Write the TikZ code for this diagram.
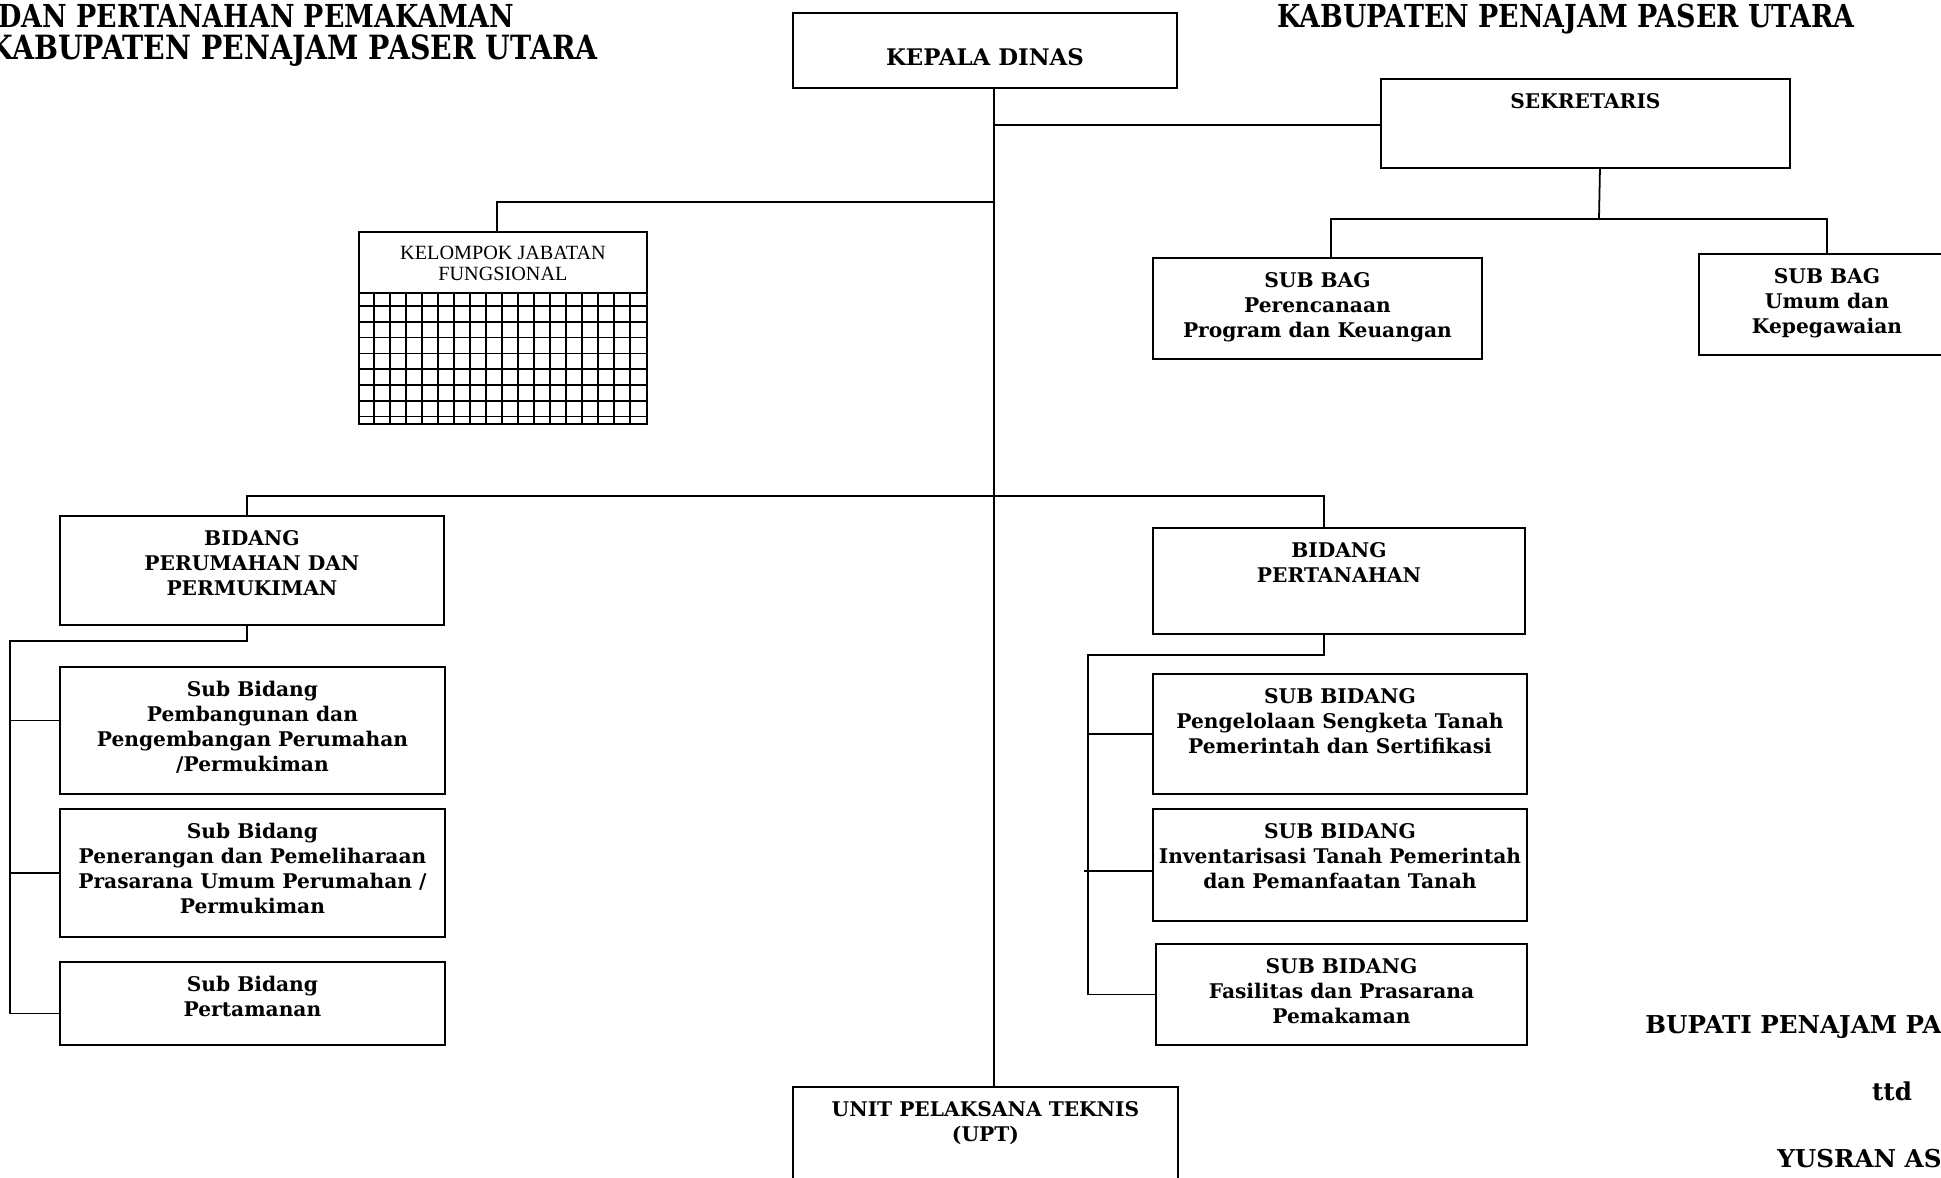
\documentclass[tikz,border=0pt]{standalone}
\usepackage{fontspec}
\setmainfont{DejaVu Serif}
\newfontfamily\titlefont[FakeStretch=0.85]{DejaVu Serif}
\newfontfamily\kjffont{Liberation Serif}
\usepackage{tikz}
\usetikzlibrary{positioning}
\newlength\unitpx
\setlength\unitpx{0.02cm}

\begin{document}
\begin{tikzpicture}[x=0.02cm,y=-0.02cm]
\tikzstyle{box}=[draw,line width=1.1pt,inner sep=0pt,anchor=north west];
\tikzstyle{txt}=[align=center,inner sep=0pt,font=\fontsize{11.5}{14.2}\selectfont\bfseries];
\tikzstyle{line}=[line width=1pt];
\tikzstyle{title}=[inner sep=0pt,font=\titlefont\fontsize{18}{21}\selectfont\bfseries];
\tikzstyle{sign}=[inner sep=0pt,font=\fontsize{14}{17}\selectfont\bfseries];
\path[use as bounding box,fill=white] (0,0) rectangle (1941,1177);

\node [title,anchor=base east] (head1) at (514,27) {DAN PERTANAHAN PEMAKAMAN};
\node [title,font=\titlefont\fontsize{19}{22}\selectfont\bfseries,anchor=base east] (head2) at (598,59) {KABUPATEN PENAJAM PASER UTARA};
\node [title,anchor=base west] (head3) at (1277,27) {KABUPATEN PENAJAM PASER UTARA};

\node [box,minimum width=384\unitpx,minimum height=75\unitpx] (kadis) at (792,12) {};
\node [txt,font=\fontsize{13}{16}\selectfont\bfseries,below=36\unitpx of kadis.north] (kadis-t) {KEPALA DINAS};

\node [box,minimum width=409\unitpx,minimum height=89\unitpx] (sek) at (1380,78) {};
\node [txt,below=15\unitpx of sek.north] (sek-t) {SEKRETARIS};
\node [box,minimum width=329\unitpx,minimum height=101\unitpx] (sbp) at (1152,257) {};
\node [txt,below=15\unitpx of sbp.north] (sbp-t) {SUB BAG\\Perencanaan\\Program dan Keuangan};
\node [box,minimum width=256\unitpx,minimum height=101\unitpx] (sbu) at (1698,253) {};
\node [txt,below=15\unitpx of sbu.north] (sbu-t) {SUB BAG\\Umum dan\\Kepegawaian};

\node [box,minimum width=288\unitpx,minimum height=192\unitpx] (kjf) at (358,231) {};
\node [txt,font=\kjffont\fontsize{11.5}{12}\selectfont,below=15\unitpx of kjf.north] (kjf-t) {KELOMPOK JABATAN\\FUNGSIONAL};
\draw [line] (358,293) -- (646,293);
\foreach \i in {1,...,17}
  \draw [line] (358+16*\i,293) -- (358+16*\i,423);
\foreach \j in {0,...,7}
  \draw [line] (358,306+15.8*\j) -- (646,306+15.8*\j);

\node [box,minimum width=384\unitpx,minimum height=109\unitpx] (bp) at (59,515) {};
\node [txt,below=15\unitpx of bp.north] (bp-t) {BIDANG\\PERUMAHAN DAN\\PERMUKIMAN};
\node [box,minimum width=385\unitpx,minimum height=127\unitpx] (sb1) at (59,666) {};
\node [txt,below=15\unitpx of sb1.north] (sb1-t) {Sub Bidang\\Pembangunan dan\\Pengembangan Perumahan\\/Permukiman};
\node [box,minimum width=385\unitpx,minimum height=128\unitpx] (sb2) at (59,808) {};
\node [txt,below=15\unitpx of sb2.north] (sb2-t) {Sub Bidang\\Penerangan dan Pemeliharaan\\Prasarana Umum Perumahan /\\Permukiman};
\node [box,minimum width=385\unitpx,minimum height=83\unitpx] (sb3) at (59,961) {};
\node [txt,below=15\unitpx of sb3.north] (sb3-t) {Sub Bidang\\Pertamanan};

\node [box,minimum width=372\unitpx,minimum height=106\unitpx] (bt) at (1152,527) {};
\node [txt,below=15\unitpx of bt.north] (bt-t) {BIDANG\\PERTANAHAN};
\node [box,minimum width=374\unitpx,minimum height=120\unitpx] (st1) at (1152,673) {};
\node [txt,below=15\unitpx of st1.north] (st1-t) {SUB BIDANG\\Pengelolaan Sengketa Tanah\\Pemerintah dan Sertifikasi};
\node [box,minimum width=374\unitpx,minimum height=112\unitpx] (st2) at (1152,808) {};
\node [txt,below=15\unitpx of st2.north] (st2-t) {SUB BIDANG\\Inventarisasi Tanah Pemerintah\\dan Pemanfaatan Tanah};
\node [box,minimum width=371\unitpx,minimum height=101\unitpx] (st3) at (1155,943) {};
\node [txt,below=15\unitpx of st3.north] (st3-t) {SUB BIDANG\\Fasilitas dan Prasarana\\Pemakaman};

\node [box,minimum width=385\unitpx,minimum height=130\unitpx] (upt) at (792,1086) {};
\node [txt,below=15\unitpx of upt.north] (upt-t) {UNIT PELAKSANA TEKNIS\\(UPT)};

\node [sign,anchor=base west] (bupati) at (1645,1033) {BUPATI PENAJAM PA};
\node [sign,anchor=base] (ttd) at (1892,1100) {ttd};
\node [sign,anchor=base west] (nama) at (1777,1167) {YUSRAN AS};

\coordinate (js) at (993,125);
\coordinate (jf) at (993,202);
\coordinate (jb) at (993,496);
\coordinate (jsek) at (1599,219);
\coordinate (lb) at (10,641);
\coordinate (rb) at (1088,655);
\coordinate (t1) at ([yshift=10\unitpx]sb1.west);
\coordinate (t3) at ([yshift=-10\unitpx]sb3.west);
\coordinate (t5) at ([yshift=-6\unitpx]st2.west);

\draw [line] ([xshift=9\unitpx]kadis.south) -- ([xshift=8.5\unitpx]upt.north);
\draw [line] (js) -- (js -| sek.west);
\draw [line] ([xshift=14.5\unitpx]sek.south) -- (jsek);
\draw [line] ([xshift=13.5\unitpx]sbp.north) |- (jsek) -| (sbu.north);
\draw [line] ([xshift=-6\unitpx]kjf.north) |- (jf);
\draw [line] ([xshift=-5\unitpx]bp.north) |- (jb) -| ([xshift=-15\unitpx]bt.north);

\draw [line] ([xshift=-5\unitpx]bp.south) |- (lb) |- (t3);
\draw [line] (t1) -- (t1 -| lb);
\draw [line] (sb2.west) -- (sb2.west -| lb);

\draw [line] ([xshift=-15\unitpx]bt.south) |- (rb) |- (st3.west);
\draw [line] (st1.west) -- (st1.west -| rb);
\draw [line] (t5) -- ([xshift=-4\unitpx]t5 -| rb);
\end{tikzpicture}
\end{document}
